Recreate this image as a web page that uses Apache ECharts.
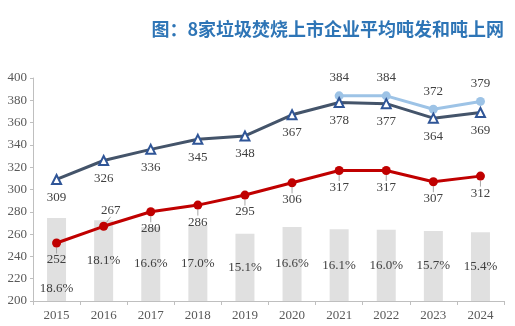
<!DOCTYPE html>
<html>
<head>
<meta charset="utf-8">
<script src="https://cdn.jsdelivr.net/npm/echarts@6/dist/echarts.min.js"></script>
<style>
  html, body { margin: 0; padding: 0; background: #fff; }
  #chart { width: 515px; height: 326px; }
</style>
</head>
<body>
<div id="chart"></div>
<script>
// Years on the category axis
const years = ['2015', '2016', '2017', '2018', '2019', '2020', '2021', '2022', '2023', '2024'];
// Average power generation per tonne of waste (kWh/t)
const genPerTonne = [309, 326, 336, 345, 348, 367, 378, 377, 364, 369];
// Power generation per tonne, alternate basis (from 2021)
const genPerTonneAlt = [null, null, null, null, null, null, 384, 384, 372, 379];
// Grid-supplied power per tonne of waste (kWh/t)
const gridPerTonne = [252, 267, 280, 286, 295, 306, 317, 317, 307, 312];
// Plant self-consumption share (%)
const selfUseRate = [18.6, 18.1, 16.6, 17.0, 15.1, 16.6, 16.1, 16.0, 15.7, 15.4];
// Left axis ticks
const leftTicks = { min: 200, max: 400, step: 20 };

const serif = '"Liberation Serif", "DejaVu Serif", serif';
const labelColor = '#404040';

const chart = echarts.init(document.getElementById('chart'), null, { renderer: 'canvas' });

chart.setOption({
  animation: false,
  title: {
    text: '图：8家垃圾焚烧上市企业平均吨发和吨上网',
    right: 6,
    top: 15,
    textStyle: {
      color: '#2E75B6',
      fontSize: 18,
      fontWeight: 'bold',
      fontFamily: '"Noto Sans CJK SC", sans-serif'
    }
  },
  grid: { left: 33, right: 11, top: 78, bottom: 25 },
  xAxis: {
    type: 'category',
    data: years,
    boundaryGap: true,
    axisLine: { lineStyle: { color: '#BFBFBF', width: 1 } },
    axisTick: { show: true, length: 4, lineStyle: { color: '#BFBFBF' } },
    axisLabel: { color: '#595959', fontSize: 13, fontFamily: serif, margin: 8 }
  },
  yAxis: [
    {
      type: 'value',
      min: leftTicks.min,
      max: leftTicks.max,
      interval: leftTicks.step,
      axisLine: { show: true, lineStyle: { color: '#BFBFBF', width: 1 } },
      axisTick: { show: true, length: 3, lineStyle: { color: '#BFBFBF' } },
      splitLine: { show: false },
      axisLabel: { color: '#595959', fontSize: 13, fontFamily: serif, margin: 6 }
    },
    {
      type: 'value',
      min: 0,
      max: 50,
      show: false
    }
  ],
  series: [
    {
      name: '厂用电率',
      type: 'bar',
      yAxisIndex: 1,
      barWidth: 19,
      itemStyle: { color: '#E0E0E0' },
      label: {
        show: true,
        position: 'inside',
        color: labelColor,
        fontSize: 13,
        fontFamily: serif,
        formatter: p => p.value.toFixed(1) + '%'
      },
      data: selfUseRate.map((v, i) => i === 0
        ? { value: v, label: { position: 'insideBottom', distance: 6 } }
        : v),
      z: 1
    },
    {
      name: '吨发电量',
      type: 'line',
      data: genPerTonne,
      symbol: 'triangle',
      symbolSize: 9,
      lineStyle: { color: '#44546A', width: 3 },
      itemStyle: { color: '#fff', borderColor: '#2F5597', borderWidth: 2 },
      label: {
        show: true,
        position: 'bottom',
        distance: 6,
        color: labelColor,
        fontSize: 13,
        fontFamily: serif
      },
      z: 3
    },
    {
      name: '吨发电量（口径二）',
      type: 'line',
      data: genPerTonneAlt,
      symbol: 'circle',
      symbolSize: 9,
      lineStyle: { color: '#9DC3E6', width: 3 },
      itemStyle: { color: '#9DC3E6' },
      label: {
        show: true,
        position: 'top',
        distance: 7,
        color: labelColor,
        fontSize: 13,
        fontFamily: serif
      },
      z: 2
    },
    {
      name: '吨上网电量',
      type: 'line',
      data: gridPerTonne.map((v, i) => {
        if (i === 0) return { value: v, label: { offset: [6, -2] } };
        return v;
      }),
      symbol: 'circle',
      symbolSize: 9,
      lineStyle: { color: '#C00000', width: 3 },
      itemStyle: { color: '#C00000' },
      label: {
        show: true,
        position: 'bottom',
        distance: 6,
        color: labelColor,
        fontSize: 13,
        fontFamily: serif
      },
      labelLine: { show: true, lineStyle: { color: '#A6A6A6', width: 1 } },
      labelLayout: params => params.dataIndex === 1
        ? { dx: 7, dy: -33 }
        : {},
      z: 3
    }
  ]
});
</script>
</body>
</html>
